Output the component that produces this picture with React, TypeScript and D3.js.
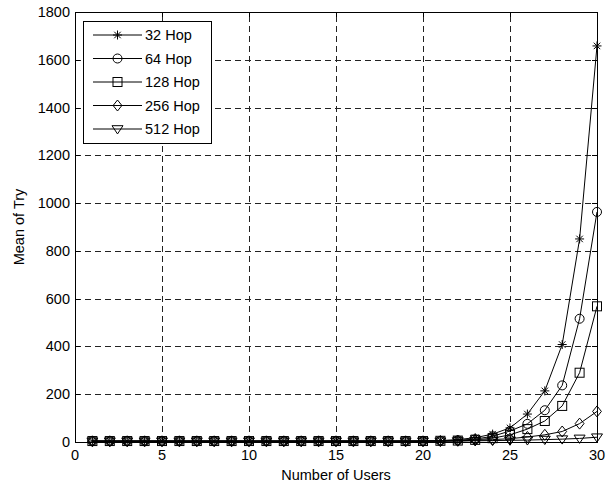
import { useEffect, useRef } from 'react';
import * as d3 from 'd3';

const users = [1, 2, 3, 4, 5, 6, 7, 8, 9, 10, 11, 12, 13, 14, 15, 16, 17, 18, 19, 20, 21, 22, 23, 24, 25, 26, 27, 28, 29, 30];

const hop32 = [4, 4, 4, 4, 4, 4, 4, 4, 4, 4, 4, 4, 4, 4, 4, 4, 4, 4, 4, 5, 6, 10, 18, 33, 59, 117, 214, 408, 850, 1658];
const hop64 = [4, 4, 4, 4, 4, 4, 4, 4, 4, 4, 4, 4, 4, 4, 4, 4, 4, 4, 4, 4, 5, 7, 12, 24, 46, 76, 133, 237, 516, 963];
const hop128 = [4, 4, 4, 4, 4, 4, 4, 4, 4, 4, 4, 4, 4, 4, 4, 4, 4, 4, 4, 4, 5, 6, 9, 16, 30, 54, 88, 151, 290, 568];
const hop256 = [3, 3, 3, 3, 3, 3, 3, 3, 3, 3, 3, 3, 3, 3, 3, 3, 3, 3, 3, 3, 4, 5, 7, 10, 14, 21, 30, 44, 77, 128];
const hop512 = [3, 3, 3, 3, 3, 3, 3, 3, 3, 3, 3, 3, 3, 3, 3, 3, 3, 3, 3, 3, 3, 4, 5, 6, 7, 8, 10, 12, 15, 20];

const seriesNames = ['32 Hop', '64 Hop', '128 Hop', '256 Hop', '512 Hop'];
const seriesMarkers = ['asterisk', 'circle', 'square', 'diamond', 'triangle'];
const seriesValues = [hop32, hop64, hop128, hop256, hop512];

const xTicks = [0, 5, 10, 15, 20, 25, 30];
const yTicks = [0, 200, 400, 600, 800, 1000, 1200, 1400, 1600, 1800];

const WIDTH = 616;
const HEIGHT = 484;
const margin = { left: 75, right: 19, top: 12, bottom: 42 };
const FONT = '"Liberation Sans", Arial, sans-serif';

const drawMarker = (g: d3.Selection<SVGGElement, unknown, null, undefined>, kind: string, cx: number, cy: number) => {
    const s = 4.5;
    if (kind === 'asterisk') {
        const d = s * 0.72;
        g.append('path')
            .attr('d', `M${cx - s},${cy}L${cx + s},${cy}M${cx},${cy - s}L${cx},${cy + s}M${cx - d},${cy - d}L${cx + d},${cy + d}M${cx - d},${cy + d}L${cx + d},${cy - d}`)
            .attr('stroke', '#000')
            .attr('fill', 'none');
    } else if (kind === 'circle') {
        g.append('circle').attr('cx', cx).attr('cy', cy).attr('r', s).attr('stroke', '#000').attr('fill', 'none');
    } else if (kind === 'square') {
        g.append('rect')
            .attr('x', cx - s)
            .attr('y', cy - s)
            .attr('width', s * 2)
            .attr('height', s * 2)
            .attr('stroke', '#000')
            .attr('fill', 'none');
    } else if (kind === 'diamond') {
        const r = 5.5;
        g.append('path')
            .attr('d', `M${cx},${cy - r}L${cx + r * 0.8},${cy}L${cx},${cy + r}L${cx - r * 0.8},${cy}Z`)
            .attr('stroke', '#000')
            .attr('fill', 'none');
    } else {
        const r = 5.5;
        g.append('path')
            .attr('d', `M${cx - r},${cy - r * 0.6}L${cx + r},${cy - r * 0.6}L${cx},${cy + r * 0.9}Z`)
            .attr('stroke', '#000')
            .attr('fill', 'none');
    }
};

export default function App() {
    const svgRef = useRef<SVGSVGElement | null>(null);

    useEffect(() => {
        if (!svgRef.current) {
            return;
        }
        const svg = d3.select(svgRef.current);
        svg.selectAll('*').remove();

        const x0 = margin.left;
        const x1 = WIDTH - margin.right;
        const y0 = HEIGHT - margin.bottom;
        const y1 = margin.top;

        const x = d3.scaleLinear().domain([0, 30]).range([x0, x1]);
        const y = d3.scaleLinear().domain([0, 1800]).range([y0, y1]);

        svg.append('rect').attr('width', WIDTH).attr('height', HEIGHT).attr('fill', '#fff');

        // grid
        const grid = svg.append('g').attr('stroke', '#222').attr('stroke-dasharray', '6,4').attr('stroke-width', 1);
        xTicks.slice(1, -1).forEach((t) => {
            grid.append('line').attr('x1', Math.round(x(t)) + 0.5).attr('x2', Math.round(x(t)) + 0.5).attr('y1', y0).attr('y2', y1);
        });
        yTicks.slice(1, -1).forEach((t) => {
            grid.append('line').attr('y1', Math.round(y(t)) + 0.5).attr('y2', Math.round(y(t)) + 0.5).attr('x1', x0).attr('x2', x1);
        });

        // ticks (inside, all four sides)
        const ticks = svg.append('g').attr('stroke', '#000').attr('stroke-width', 1);
        xTicks.forEach((t) => {
            const px = Math.round(x(t)) + 0.5;
            ticks.append('line').attr('x1', px).attr('x2', px).attr('y1', y0).attr('y2', y0 - 5);
            ticks.append('line').attr('x1', px).attr('x2', px).attr('y1', y1).attr('y2', y1 + 5);
        });
        yTicks.forEach((t) => {
            const py = Math.round(y(t)) + 0.5;
            ticks.append('line').attr('y1', py).attr('y2', py).attr('x1', x0).attr('x2', x0 + 5);
            ticks.append('line').attr('y1', py).attr('y2', py).attr('x1', x1).attr('x2', x1 - 5);
        });

        // series
        const line = d3
            .line<number>()
            .x((_, i) => x(users[i]))
            .y((v) => y(v));

        seriesValues.forEach((values, si) => {
            const g = svg.append('g');
            g.append('path').attr('d', line(values)).attr('fill', 'none').attr('stroke', '#000').attr('stroke-width', 1);
            values.forEach((v, i) => drawMarker(g, seriesMarkers[si], x(users[i]), y(v)));
        });

        // box
        svg.append('rect')
            .attr('x', x0 + 0.5)
            .attr('y', y1 + 0.5)
            .attr('width', x1 - x0)
            .attr('height', y0 - y1)
            .attr('fill', 'none')
            .attr('stroke', '#000');

        // tick labels
        const labels = svg.append('g').attr('font-family', FONT).attr('font-size', 14.5).attr('fill', '#000');
        xTicks.forEach((t) => {
            labels.append('text').attr('x', x(t)).attr('y', y0 + 18).attr('text-anchor', 'middle').text(t);
        });
        yTicks.forEach((t) => {
            labels.append('text').attr('x', x0 - 5).attr('y', y(t) + 5).attr('text-anchor', 'end').text(t);
        });

        labels.append('text').attr('x', (x0 + x1) / 2).attr('y', y0 + 38).attr('text-anchor', 'middle').text('Number of Users');
        labels
            .append('text')
            .attr('transform', `translate(24, ${(y0 + y1) / 2}) rotate(-90)`)
            .attr('text-anchor', 'middle')
            .text('Mean of Try');

        // legend
        const legend = svg.append('g');
        legend.append('rect').attr('x', 83.5).attr('y', 21.5).attr('width', 128).attr('height', 122).attr('fill', '#fff').attr('stroke', '#000');
        seriesNames.forEach((name, i) => {
            const cy = 35 + i * 23.5;
            legend.append('line').attr('x1', 93).attr('x2', 142).attr('y1', cy).attr('y2', cy).attr('stroke', '#000');
            drawMarker(legend, seriesMarkers[i], 117.5, cy);
            legend
                .append('text')
                .attr('x', 145)
                .attr('y', cy + 5)
                .attr('font-family', FONT)
                .attr('font-size', 14.5)
                .text(name);
        });
    }, []);

    return <svg ref={svgRef} width={WIDTH} height={HEIGHT} style={{ position: 'absolute', left: 0, top: 0 }} />;
}
